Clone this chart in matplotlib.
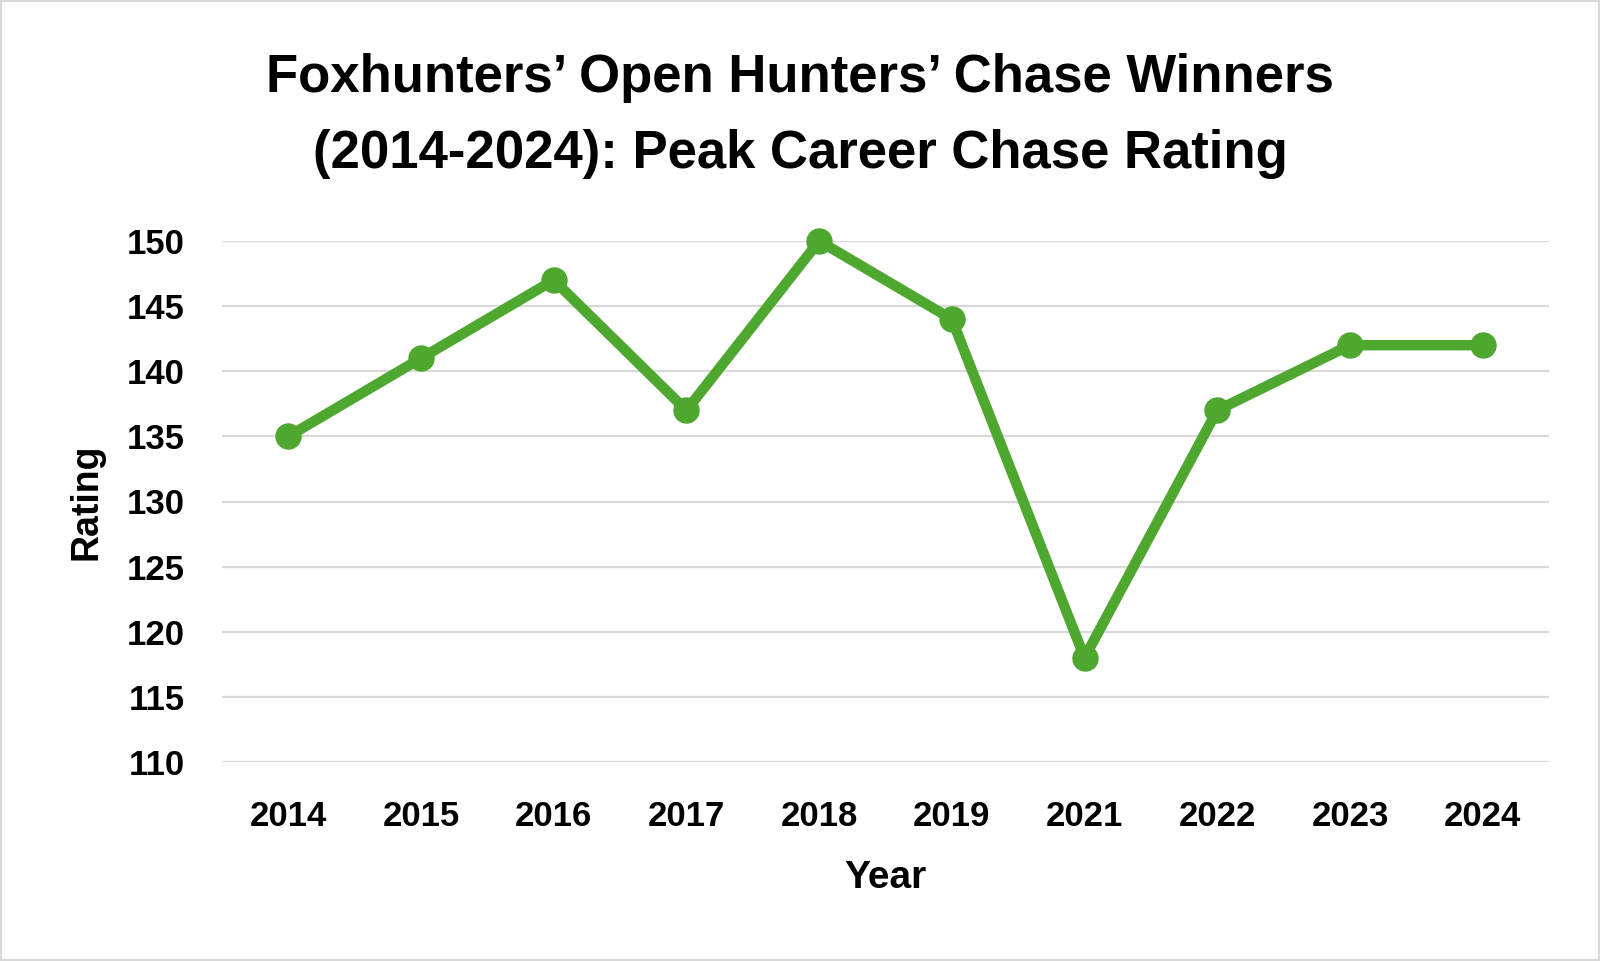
import matplotlib
matplotlib.use("Agg")
import matplotlib.pyplot as plt
from matplotlib import font_manager as fm
from matplotlib.patches import Rectangle

# fuente estrecha si existe
names = {f.name for f in fm.fontManager.ttflist}
FONT = "Liberation Sans Narrow" if "Liberation Sans Narrow" in names else "Liberation Sans"
plt.rcParams["font.family"] = [FONT, "DejaVu Sans"]
plt.rcParams["font.weight"] = "bold"

# ── Datos ──
years = ["2014", "2015", "2016", "2017", "2018", "2019", "2021", "2022", "2023", "2024"]
ratings = [135, 141, 147, 137, 150, 144, 118, 137, 142, 142]
yticks = [110, 115, 120, 125, 130, 135, 140, 145, 150]

GREEN = "#4EA72E"
GRID = "#D9D9D9"
W, H = 1600, 961

fig = plt.figure(figsize=(W / 100, H / 100), dpi=100, facecolor="white")
ax = fig.add_axes([222 / W, 1 - 762 / H, (1549 - 222) / W, (762 - 241) / H])

x = range(len(years))
ax.plot(x, ratings, color=GREEN, lw=7.5, marker="o", ms=18, zorder=3, clip_on=False,
        solid_capstyle="round", solid_joinstyle="round")

ax.set_xlim(-0.5, len(years) - 0.5)
ax.set_ylim(110, 150)
ax.set_yticks(yticks)
ax.set_xticks(list(x))
ax.set_xticklabels(years)
ax.yaxis.grid(True, color=GRID, lw=1.6, zorder=0)
ax.set_axisbelow(True)
for sp in ax.spines.values():
    sp.set_visible(False)
ax.tick_params(length=0, labelsize=25)
ax.tick_params(axis="y", pad=27)
ax.tick_params(axis="x", pad=27)
for lab in ax.get_xticklabels() + ax.get_yticklabels():
    lab.set_fontweight("bold")

ax.set_xlabel("Year", fontsize=28, fontweight="bold", labelpad=20)
ax.set_ylabel("Rating", fontsize=27, fontweight="bold", labelpad=16)

fig.text(0.5, 1 - 78 / H, "Foxhunters\u2019 Open Hunters\u2019 Chase Winners",
         ha="center", va="center", fontsize=38, fontweight="bold")
fig.text(0.5, 1 - 154 / H, "(2014-2024): Peak Career Chase Rating",
         ha="center", va="center", fontsize=38, fontweight="bold")

# borde gris
fig.patches.append(Rectangle((0, 0), 1, 1, transform=fig.transFigure, fill=False,
                             edgecolor="#D9D9D9", lw=3))

fig.savefig("out.png", dpi=100, facecolor="white")
